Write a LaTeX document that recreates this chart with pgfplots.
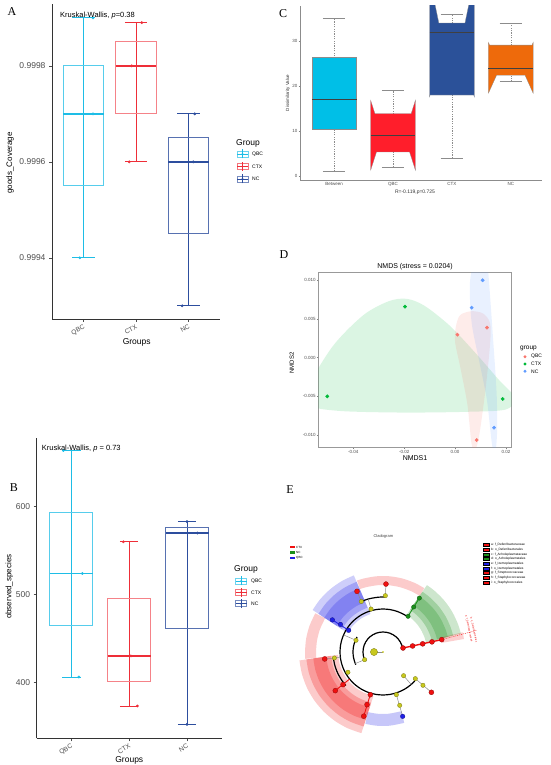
\documentclass[border=0pt]{standalone}
\usepackage{fontspec}
\setmainfont{Liberation Sans}
\newfontfamily\letterfont{Liberation Serif}
\usepackage{pgfplots}
\pgfplotsset{compat=1.18}
\usepgfplotslibrary{polar}

\definecolor{qbc}{HTML}{1EBDE6}
\definecolor{ctx}{HTML}{EE2E38}
\definecolor{nc}{HTML}{2D4E9E}
\definecolor{cbet}{HTML}{00BFE7}
\definecolor{cqbc}{HTML}{FF1E2B}
\definecolor{cctx}{HTML}{2B5199}
\definecolor{cnc}{HTML}{EE6A0B}
\definecolor{dqbc}{HTML}{F8766D}
\definecolor{dctx}{HTML}{00BA38}
\definecolor{dnc}{HTML}{619CFF}
\definecolor{tickgray}{HTML}{4D4D4D}
\definecolor{lyel}{HTML}{C8C81E}
\definecolor{lred}{HTML}{F01010}
\definecolor{lgreen}{HTML}{1A8F1A}
\definecolor{lblue}{HTML}{2020E6}

\newcommand\fs[1]{\fontsize{#1}{#1}\selectfont}
% legend key of the boxplot panels
\newcommand\gkey[3]{%
  \draw[#3!65, line width=0.5pt] (#1,#2-3) rectangle (#1+11,#2+3);
  \draw[#3, line width=0.6pt] (#1,#2) -- (#1+11,#2) (#1+5.5,#2-4.5) -- (#1+5.5,#2+4.5);
  \fill[#3] (#1+5.5,#2) circle (1.1);}

\pgfplotsset{
  gg/.style={scale only axis, axis x line*=bottom, axis y line*=left,
    axis line style={black!80, line width=0.8pt, -}, tick align=outside,
    major tick length=3pt, tick style={black!70, line width=0.6pt},
    ticklabel style={text=tickgray}, clip=false},
  bx/.style={line width=0.9pt}, md/.style={line width=1.3pt},
}

\begin{document}
\begin{tikzpicture}[x=1pt,y=1pt]

% ---------------- A: goods coverage (values as (v-0.999)*1e4)
\begin{axis}[gg, at={(52pt,446pt)}, anchor=south west, width=168pt, height=315pt,
  xmin=0.4, xmax=3.6, ymin=2.725, ymax=9.29,
  xtick={1,2,3}, xticklabels={QBC,CTX,NC},
  xticklabel style={rotate=30, anchor=north east, font=\fs{6.5}, inner sep=1.5pt},
  ytick={4,6,8}, yticklabels={0.9994,0.9996,0.9998},
  yticklabel style={font=\fs{8.5}}]
\addplot[color=qbc, bx] coordinates {(1,4) (1,9)};
\addplot[color=qbc, bx] coordinates {(0.79,4) (1.21,4)};
\addplot[color=qbc, bx] coordinates {(0.79,9) (1.21,9)};
\addplot[color=qbc!75, bx] coordinates {(0.617,5.5) (1.383,5.5) (1.383,8) (0.617,8)} --cycle;
\addplot[color=qbc, md] coordinates {(0.617,7) (1.383,7)};
\addplot[only marks, mark=*, mark size=1.2pt, color=qbc] coordinates {(1.18,9) (1.18,7) (0.93,4)};
\addplot[color=ctx, bx] coordinates {(2,6) (2,8.9)};
\addplot[color=ctx, bx] coordinates {(1.79,6) (2.21,6)};
\addplot[color=ctx, bx] coordinates {(1.79,8.9) (2.21,8.9)};
\addplot[color=ctx!60, bx] coordinates {(1.617,7) (2.383,7) (2.383,8.5) (1.617,8.5)} --cycle;
\addplot[color=ctx, md] coordinates {(1.617,8) (2.383,8)};
\addplot[only marks, mark=*, mark size=1.2pt, color=ctx] coordinates {(2.11,8.9) (1.92,8) (1.87,6)};
\addplot[color=nc, bx] coordinates {(3,3) (3,7)};
\addplot[color=nc, bx] coordinates {(2.79,3) (3.21,3)};
\addplot[color=nc, bx] coordinates {(2.79,7) (3.21,7)};
\addplot[color=nc!80, bx] coordinates {(2.617,4.5) (3.383,4.5) (3.383,6.5) (2.617,6.5)} --cycle;
\addplot[color=nc, md] coordinates {(2.617,6) (3.383,6)};
\addplot[only marks, mark=*, mark size=1.2pt, color=nc] coordinates {(3.12,7) (3.09,6) (2.88,3)};
\end{axis}

% ---------------- B: observed species
\begin{axis}[gg, at={(36.7pt,26.7pt)}, anchor=south west, width=185pt, height=300.6pt,
  xmin=0.4, xmax=3.6, ymin=336.2, ymax=678.6,
  xtick={1,2,3}, xticklabels={QBC,CTX,NC},
  xticklabel style={rotate=30, anchor=north east, font=\fs{6.5}, inner sep=1.5pt},
  ytick={400,500,600}, yticklabels={400,500,600},
  yticklabel style={font=\fs{8.5}}]
\addplot[color=qbc, bx] coordinates {(1,406) (1,664)};
\addplot[color=qbc, bx] coordinates {(0.84,406) (1.16,406)};
\addplot[color=qbc, bx] coordinates {(0.84,664) (1.16,664)};
\addplot[color=qbc!75, bx] coordinates {(0.628,465) (1.372,465) (1.372,594) (0.628,594)} --cycle;
\addplot[color=qbc, md] coordinates {(0.628,524) (1.372,524)};
\addplot[only marks, mark=*, mark size=1.2pt, color=qbc] coordinates {(0.86,664) (1.19,524) (1.13,406)};
\addplot[color=ctx, bx] coordinates {(2,373) (2,560)};
\addplot[color=ctx, bx] coordinates {(1.84,373) (2.16,373)};
\addplot[color=ctx, bx] coordinates {(1.84,560) (2.16,560)};
\addplot[color=ctx!60, bx] coordinates {(1.628,401.5) (2.372,401.5) (2.372,495) (1.628,495)} --cycle;
\addplot[color=ctx, md] coordinates {(1.628,430) (2.372,430)};
\addplot[only marks, mark=*, mark size=1.2pt, color=ctx] coordinates {(1.9,560) (2.03,430) (2.14,373)};
\addplot[color=nc, bx] coordinates {(3,352) (3,583)};
\addplot[color=nc, bx] coordinates {(2.84,352) (3.16,352)};
\addplot[color=nc, bx] coordinates {(2.84,583) (3.16,583)};
\addplot[color=nc!80, bx] coordinates {(2.628,461) (3.372,461) (3.372,576.5) (2.628,576.5)} --cycle;
\addplot[color=nc, md] coordinates {(2.628,570) (3.372,570)};
\addplot[only marks, mark=*, mark size=1.2pt, color=nc] coordinates {(3.0,583) (3.18,570) (3.0,352)};
\end{axis}

% ---------------- C: dissimilarity (notched boxes)
\begin{axis}[gg, clip=true, at={(300pt,585pt)}, anchor=south west, width=242pt, height=174pt,
  xmin=0.42, xmax=4.53, ymin=-0.9, ymax=37.8,
  axis line style={black!45, line width=0.5pt, -}, major tick length=1.5pt,
  tick style={black!50, line width=0.4pt},
  xtick={1,2,3,4}, xticklabels={Between,QBC,CTX,NC},
  ytick={0,10,20,30}, yticklabels={0,10,20,30},
  ticklabel style={font=\fs{4.5}, inner sep=1pt}]
\pgfplotsset{whisk/.style={black!45, line width=0.5pt, dash pattern=on 1.2pt off 1.2pt},
  cap/.style={black!45, line width=0.6pt},
  med/.style={black!75, line width=0.9pt},
  boxl/.style={draw=black!45, line width=0.3pt}}
\addplot[whisk] coordinates {(1,1) (1,35)};
\addplot[cap] coordinates {(0.81,35) (1.19,35)};
\addplot[cap] coordinates {(0.81,1) (1.19,1)};
\addplot[whisk] coordinates {(2,2) (2,19)};
\addplot[cap] coordinates {(1.81,19) (2.19,19)};
\addplot[cap] coordinates {(1.81,2) (2.19,2)};
\addplot[whisk] coordinates {(3,4) (3,36)};
\addplot[cap] coordinates {(2.81,36) (3.19,36)};
\addplot[cap] coordinates {(2.81,4) (3.19,4)};
\addplot[whisk] coordinates {(4,21) (4,34)};
\addplot[cap] coordinates {(3.81,34) (4.19,34)};
\addplot[cap] coordinates {(3.81,21) (4.19,21)};
\addplot[boxl, fill=cbet] coordinates {(0.62,10.44) (1.38,10.44) (1.38,26.4) (0.62,26.4)} --cycle;
\addplot[med] coordinates {(0.62,17) (1.38,17)};
\addplot[boxl, fill=cqbc] coordinates {(1.62,1.3) (1.719,5.33) (2.281,5.33) (2.38,1.3)
  (2.38,16.8) (2.308,13.85) (1.692,13.85) (1.62,16.8)} --cycle;
\addplot[med] coordinates {(1.62,9) (2.38,9)};
\addplot[boxl, fill=cctx] coordinates {(2.62,17.5) (2.6266,18) (3.3734,18) (3.38,17.5)
  (3.38,44) (3.222,34) (2.778,34) (2.62,44)} --cycle;
\addplot[med] coordinates {(2.62,32) (3.38,32)};
\addplot[boxl, fill=cnc] coordinates {(3.62,18.4) (3.758,22.4) (4.242,22.4) (4.38,18.4)
  (4.38,29.7) (4.3603,29.1) (3.6397,29.1) (3.62,29.7)} --cycle;
\addplot[med] coordinates {(3.62,23.9) (4.38,23.9)};
\end{axis}

% ---------------- D: NMDS
\begin{axis}[scale only axis, at={(318.3pt,317.7pt)}, anchor=south west, width=193.4pt, height=175pt,
  xmin=-0.05373, xmax=0.02224, ymin=-0.01159, ymax=0.01103,
  axis line style={black!40, line width=0.5pt}, tick align=outside, major tick length=1.5pt,
  tick style={black!50, line width=0.4pt}, xtick pos=left, ytick pos=left, scaled ticks=false,
  xtick={-0.04,-0.02,0,0.02}, xticklabels={-0.04,-0.02,0.00,0.02},
  ytick={-0.01,-0.005,0,0.005,0.01}, yticklabels={-0.010,-0.005,0.000,0.005,0.010},
  ticklabel style={font=\fs{4.5}, text=tickgray, inner sep=1pt}]
\addplot[fill=dctx, fill opacity=0.14, draw=none, smooth cycle] coordinates {
  (-0.058,-0.004) (-0.048,0.0015) (-0.036,0.0055) (-0.026,0.0073) (-0.019,0.0076)
  (-0.012,0.0067) (-0.002,0.0041) (0.008,0.0006) (0.017,-0.0028) (0.0235,-0.0052)
  (0.020,-0.0067) (0.005,-0.0070) (-0.020,-0.0071) (-0.045,-0.0069) (-0.057,-0.0062)};
\addplot[fill=dqbc, fill opacity=0.14, draw=none, smooth cycle] coordinates {
  (0.0003,0.004) (0.002,0.0055) (0.0065,0.006) (0.011,0.0057) (0.0137,0.0045)
  (0.0138,0.002) (0.012,-0.004) (0.0095,-0.010) (0.008,-0.0118) (0.0065,-0.0112)
  (0.0048,-0.006) (0.002,-0.0012) (0.0,0.002)};
\addplot[fill=dnc, fill opacity=0.14, draw=none, smooth cycle] coordinates {
  (0.0058,0.0095) (0.0075,0.0125) (0.010,0.0135) (0.0125,0.0125) (0.0135,0.009)
  (0.0148,0.003) (0.0163,-0.0045) (0.0165,-0.0095) (0.0158,-0.0122) (0.0145,-0.0112)
  (0.0125,-0.0055) (0.0095,-0.0005) (0.0065,0.0045)};
\addplot[only marks, mark=*, mark size=1.7pt, color=dctx] coordinates {(-0.0502,-0.005) (-0.0197,0.00659) (0.0187,-0.00534)};
\addplot[only marks, mark=*, mark size=1.7pt, color=dqbc] coordinates {(0.0009,0.00297) (0.0125,0.00388) (0.0085,-0.01065)};
\addplot[only marks, mark=*, mark size=1.7pt, color=dnc] coordinates {(0.0108,0.010) (0.0065,0.00646) (0.0153,-0.00906)};
\end{axis}

% ---------------- E: cladogram (angle in degrees, radius in pt)
\begin{polaraxis}[at={(383pt,113pt)}, anchor=origin, hide axis, scale only axis,
  width=200pt, height=200pt, xmin=0, xmax=360, ymin=0, ymax=100, clip=false]
\pgfplotsset{band/.style 2 args={draw=#1, line width=#2pt, smooth, line cap=butt}}
\addplot[band={lgreen}{36}, draw opacity=0.22] coordinates {(13,62) (20,62) (30,62) (40,62) (50,62) (57,62)};
\addplot[band={lgreen}{22}, draw opacity=0.25] coordinates {(13,61) (20,61) (30,61) (40,61) (50,61) (57,61)};
\addplot[band={lgreen}{11}, draw opacity=0.25] coordinates {(13,61) (20,61) (30,61) (40,61) (50,61) (57,61)};
\addplot[band={lblue}{42}, draw opacity=0.22] coordinates {(110,61) (120,61) (130,61) (140,61) (150,61)};
\addplot[band={lblue}{28}, draw opacity=0.25] coordinates {(110,61) (120,61) (130,61) (140,61) (150,61)};
\addplot[band={lblue}{15}, draw opacity=0.25] coordinates {(110,60.5) (120,60.5) (130,60.5) (140,60.5) (150,60.5)};
\addplot[band={lred}{9}, draw opacity=0.22] coordinates {(57,71.5) (65,71.5) (75,71.5) (85,71.5) (95,71.5) (105,71.5) (110,71.5)};
\addplot[band={lred}{11}, draw opacity=0.22] coordinates {(150,72.5) (160,72.5) (170,72.5) (180,72.5) (185,72.5)};
\addplot[band={lred}{39}, draw opacity=0.22] coordinates {(185,64.5) (195,64.5) (205,64.5) (215,64.5) (225,64.5) (235,64.5) (245,64.5) (256,64.5)};
\addplot[band={lred}{25}, draw opacity=0.25] coordinates {(185,64.5) (195,64.5) (205,64.5) (215,64.5) (225,64.5) (235,64.5) (245,64.5) (256,64.5)};
\addplot[band={lred}{13}, draw opacity=0.25] coordinates {(185,63.5) (195,63.5) (205,63.5) (215,63.5) (225,63.5) (235,63.5) (245,63.5) (256,63.5)};
\addplot[band={lblue}{12}, draw opacity=0.25] coordinates {(256,68) (265,68) (275,68) (287,68)};
\addplot[band={lred}{22}, draw opacity=0.2] coordinates {(9,71) (11.5,71) (14,71)};
\addplot[lred, line width=0.4pt, dash pattern=on 1pt off 1pt] coordinates {(11.9,60) (13,96)};
% tree backbone
\pgfplotsset{arcb/.style={black, line width=1.2pt, smooth}, edge/.style={black!45, line width=0.5pt}}
\addplot[arcb] coordinates {(11,20) (20,20) (30,20) (40,20) (50,20) (60,20) (70,20) (80,20) (90,20) (100,20)
  (110,20) (120,20) (130,20) (140,20) (150,20) (160,20) (170,20) (180,20) (190,20) (200,20) (205,20)};
\addplot[arcb] coordinates {(150,30) (160,30) (170,30) (180,30) (190,30) (200,30) (205,30)};
\addplot[arcb] coordinates {(55,43) (60,43) (70,43) (80,43) (90,43) (100,43) (110,43) (120,43) (130,43)
  (140,43) (150,43) (160,43) (170,43) (180,43) (190,43) (200,43) (210,43) (220,43) (230,43) (240,43)
  (250,43) (260,43) (270,43) (280,43) (290,43) (300,43) (310,43) (320,43) (321,43)};
\addplot[arcb] coordinates {(87,55) (95,55) (105,55) (114,55)};
\addplot[arcb] coordinates {(186,50) (195,50) (205,50) (215,50) (222,50)};
\addplot[edge] coordinates {(180,0) (180,9)};
\addplot[edge] coordinates {(202.7,20) (202.7,30)};
\addplot[edge] coordinates {(156.6,30) (156.6,43)};
\addplot[edge] coordinates {(105.6,43) (105.6,55)};
\addplot[edge] coordinates {(113.2,55) (113.2,66)};
\addplot[edge] coordinates {(87.6,55) (87.5,68)};
\addplot[edge] coordinates {(187,43) (187,58.7)};
\addplot[edge] coordinates {(287.4,43) (287,67.3)};
\addplot[edge] coordinates {(311,31.4) (311,43)};
\addplot[edge] coordinates {(320.5,43) (320.2,63)};
\addplot[lred, line width=0.9pt] coordinates {(219,43) (219,61.4)};
\addplot[lred, line width=0.9pt] coordinates {(253.4,43) (253.3,67)};
\addplot[lgreen, line width=0.9pt] coordinates {(55,43.6) (56,65)};
\addplot[lblue, line width=0.9pt] coordinates {(147.7,40.6) (147.6,60)};
\addplot[lred, line width=1.4pt] coordinates {(11.3,20) (11.9,60)};
% nodes
\addplot[only marks, mark=*, mark size=3.6pt, mark options={fill=lyel, draw=lyel!60!black, line width=0.3pt}] coordinates {(180,9)};
\addplot[only marks, mark=*, mark size=0.7pt, mark options={fill=lyel, draw=lyel}] coordinates {(0,0)};
\addplot[only marks, mark=*, mark size=2.2pt, mark options={fill=lyel, draw=lyel!60!black, line width=0.3pt}] coordinates {
  (202.7,19.9) (156.6,29.4) (105.6,44.6) (113.2,55) (87.6,56.4) (187,49) (210,40.5)
  (311,31.4) (320.5,41.9) (320.2,52) (287.4,44.7) (287.4,55.9)};
\addplot[only marks, mark=*, mark size=2.5pt, mark options={fill=lred, draw=lred!60!black, line width=0.3pt}] coordinates {
  (87.5,68) (113.2,66) (186.8,58.7) (219.2,51.6) (219,61.4) (253.5,44.5) (253.1,55) (253.3,67)
  (320.2,63) (11.3,20.4) (11.5,30.2) (11.6,40.5) (11.7,50) (11.9,60)};
\addplot[only marks, mark=*, mark size=2.3pt, mark options={fill=lblue, draw=lblue!60!black, line width=0.3pt}] coordinates {
  (287,67.3) (147.6,60) (147,50.7) (147.7,40.6)};
\addplot[only marks, mark=*, mark size=2.2pt, mark options={fill=lgreen, draw=lgreen!60!black, line width=0.3pt}] coordinates {
  (54.9,43.6) (55.7,54.5) (56,65)};
\end{polaraxis}

% ---------------- texts and legends
\node[font=\letterfont\fs{12}] at (12,753) {A};
\node[font=\letterfont\fs{12}] at (283,751) {C};
\node[font=\letterfont\fs{12}] at (284,510) {D};
\node[font=\letterfont\fs{12}] at (14,277) {B};
\node[font=\letterfont\fs{12}] at (290,275) {E};

\node[font=\fs{7.5}, anchor=west, inner sep=0] at (60,749) {Kruskal-Wallis, \textit{p}=0.38};
\node[font=\fs{7.5}, anchor=west, inner sep=0] at (41.7,316.7) {Kruskal-Wallis, \textit{p} = 0.73};
\node[font=\fs{8}, rotate=90] at (10,602) {goods\_Coverage};
\node[font=\fs{8.5}] at (136.7,422.5) {Groups};
\node[font=\fs{8}, rotate=90] at (9.3,178.3) {observed\_species};
\node[font=\fs{8.5}] at (129.3,5) {Groups};

\node[font=\fs{8.5}, anchor=west, inner sep=0] at (236,622) {Group};
\gkey{237}{611}{qbc} \node[font=\fs{5}, anchor=west, inner sep=0] at (252,611) {QBC};
\gkey{237}{598.5}{ctx} \node[font=\fs{5}, anchor=west, inner sep=0] at (252,598.5) {CTX};
\gkey{237}{586}{nc} \node[font=\fs{5}, anchor=west, inner sep=0] at (252,586) {NC};

\node[font=\fs{8.5}, anchor=west, inner sep=0] at (234,196) {Group};
\gkey{235.7}{184}{qbc} \node[font=\fs{5}, anchor=west, inner sep=0] at (251,184) {QBC};
\gkey{235.7}{172.7}{ctx} \node[font=\fs{5}, anchor=west, inner sep=0] at (251,172.7) {CTX};
\gkey{235.7}{161.3}{nc} \node[font=\fs{5}, anchor=west, inner sep=0] at (251,161.3) {NC};

\node[font=\fs{4.5}, rotate=90, text=black!80] at (288,672) {Dissimilarity Value};
\node[font=\fs{5}, text=black!80] at (415,572.8) {R=-0.119,p=0.725};

\node[font=\fs{7}] at (415,498.3) {NMDS (stress = 0.0204)};
\node[font=\fs{7}] at (415,307) {NMDS1};
\node[font=\fs{6}, rotate=90] at (291.7,402) {NMDS2};
\node[font=\fs{6.5}, anchor=west, inner sep=0] at (520,416.7) {group};
\fill[dqbc] (525,408.3) circle (1.6); \node[font=\fs{5}, anchor=west, inner sep=0] at (531,408.3) {QBC};
\fill[dctx] (525,401) circle (1.6); \node[font=\fs{5}, anchor=west, inner sep=0] at (531,401) {CTX};
\fill[dnc] (525,393.7) circle (1.6); \node[font=\fs{5}, anchor=west, inner sep=0] at (531,393.7) {NC};

\node[font=\fs{4}, text=black!75] at (383.3,228.3) {Cladogram};
\fill[lred] (290,216.7) rectangle (294.7,219.3); \node[font=\fs{3}, anchor=west, inner sep=0] at (296,218) {CTX};
\fill[lgreen] (290,211.4) rectangle (294.7,214); \node[font=\fs{3}, anchor=west, inner sep=0] at (296,212.7) {NC};
\fill[lblue] (290,205.7) rectangle (294.7,208.3); \node[font=\fs{3}, anchor=west, inner sep=0] at (296,207) {QBC};

\foreach \yy/\cc/\tt in {220/lred/{a: f\_Deferribacteraceae}, 215.3/lred/{b: o\_Deferribacterales},
  210.7/lgreen/{c: f\_Acholeplasmataceae}, 206/lgreen/{d: o\_Acholeplasmatales},
  201.3/lblue/{e: f\_Izemoplasmatales}, 196.7/lblue/{f: o\_Izemoplasmatales},
  192/lred/{g: f\_Streptococcaceae}, 187.3/lred/{h: f\_Staphylococcaceae}, 182.7/lred/{i: o\_Staphylococcales}}{
  \draw[fill=\cc, draw=black, line width=0.3pt] (483.3,\yy-1.4) rectangle (489,\yy+1.4);
  \node[font=\fs{3.2}, anchor=west, inner sep=0] at (491,\yy) {\tt};}

\node[font=\fs{2.6}, text=lred, rotate=-78, anchor=west, inner sep=0] at (466,150) {a: f\_Deferribacteraceae};
\node[font=\fs{2.6}, text=lred, rotate=-78, anchor=west, inner sep=0] at (471,148) {b: o\_Deferribacterales};

\pgfresetboundingbox
\path[use as bounding box] (0,0) rectangle (550,765);
\end{tikzpicture}
\end{document}
